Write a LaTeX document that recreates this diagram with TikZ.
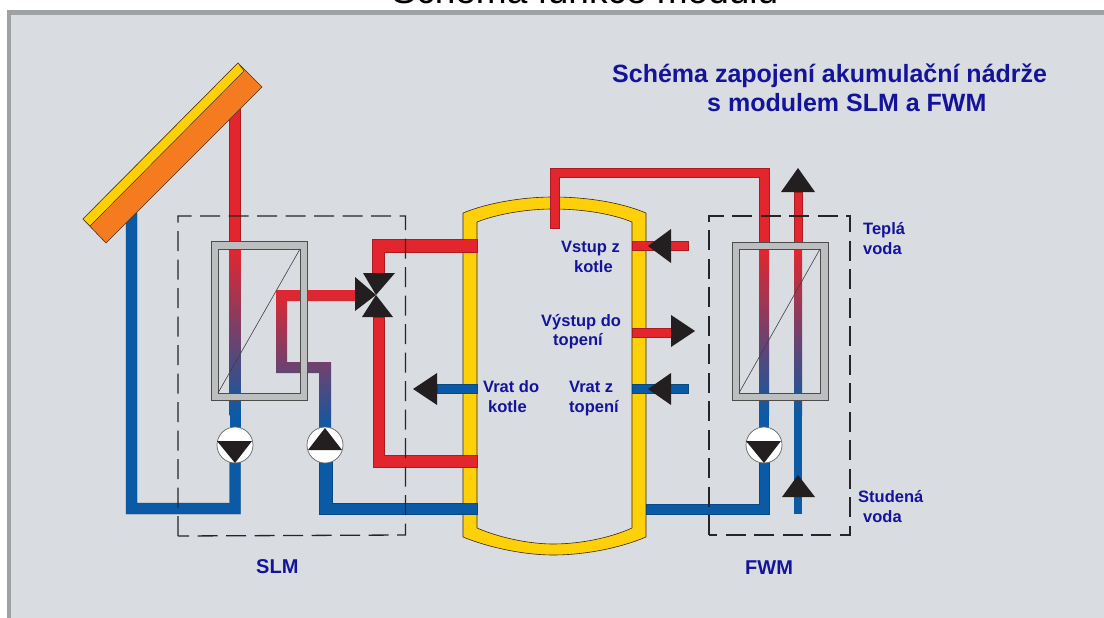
\documentclass[tikz,border=0pt]{standalone}
\usepackage{fontspec}
\setmainfont{Liberation Sans}
\definecolor{panel}{HTML}{D9DCE0}
\definecolor{rim}{HTML}{9EA2A5}
\definecolor{pipered}{HTML}{E3262E}
\definecolor{pipeblue}{HTML}{0A5AA5}
\definecolor{pipemix}{HTML}{A8455F}
\definecolor{tankyellow}{HTML}{FDD00A}
\definecolor{collorange}{HTML}{F47B20}
\definecolor{frame}{HTML}{BCBEC0}
\definecolor{tip}{HTML}{231F20}
\definecolor{label}{HTML}{14149A}

\begin{document}
\begin{tikzpicture}[x=1pt,y=-1pt]
  % overall canvas
  \useasboundingbox (0,0) rectangle (1104,618);
  \clip (0,0) rectangle (1104,618);

  % styles
  \tikzset{
    redpipe/.style={fill=pipered,draw=pipered!75!black,line width=0.4pt},
    bluepipe/.style={fill=pipeblue,draw=pipeblue!80!black,line width=0.4pt},
    hotcold/.style={top color=pipered,middle color=pipemix,bottom color=pipeblue},
    hxframe/.style={fill=frame,draw=black!70,line width=0.7pt,even odd rule},
    hxline/.style={draw=black!75,line width=0.6pt},
    module/.style={draw=black!85,line width=1.3pt,dash pattern=on 20pt off 8.5pt},
    pumpdisc/.style={fill=white,draw=black!60,line width=0.7pt},
    flowtip/.style={fill=tip},
    txt/.style={font=\bfseries\fontsize{16.5}{18}\selectfont,text=label,anchor=base west,inner sep=0pt},
  }

  % white outside, then panel with its rim
  \fill[white] (0,0) rectangle (1104,618);
  \fill[rim] (7,10) rectangle (1104,618);
  \fill[panel] (11,15) rectangle (1104,618);

  % clipped heading above the panel
  \node[font=\fontsize{37}{40}\selectfont,anchor=base,inner sep=0pt] (heading) at (585,4) {Schéma funkce modulu};

  % --- tank ---
  \fill[tankyellow,draw=black!70!brown,line width=0.6pt,even odd rule]
    (463,213) .. controls (490,202) and (525,197) .. (553,197) .. controls (585,197) and (620,202) .. (646,213) --
    (646,537) .. controls (620,548) and (585,555) .. (553,555) .. controls (525,555) and (490,548) .. (463,537) -- cycle
    (477,222) .. controls (500,213) and (530,209) .. (553,209) .. controls (580,209) and (610,213) .. (632,222) --
    (632,528) .. controls (610,538) and (580,544) .. (553,544) .. controls (530,544) and (500,538) .. (477,528) -- cycle;

  % --- solar side pipes ---
  \draw[redpipe] (229.5,108) -- (240.5,108) -- (240.5,247) -- (229.5,247) -- cycle;
  \shade[hotcold] (229.5,249) rectangle (240.5,415);
  \fill[pipeblue] (229.5,414) rectangle (240.5,430);
  \draw[bluepipe] (126,220) -- (126,514) -- (240.5,514) -- (240.5,445) -- (229.5,445) -- (229.5,503) -- (137,503) -- (137,213) -- cycle;
  \shade[hotcold] (276,290) -- (355,290) -- (355,301) -- (287,301) -- (287,362) -- (331,362) -- (331,430) -- (319,430) -- (319,373) -- (276,373) -- cycle;
  \draw[bluepipe] (319,445) -- (319,514) -- (477,514) -- (477,503) -- (332,503) -- (332,445) -- cycle;

  % --- collector ---
  \fill[collorange,draw=black!60!brown,line width=0.6pt] (238,63) -- (262,87) -- (106,243) -- (83,219) -- cycle;
  \fill[tankyellow,draw=black!60!brown,line width=0.5pt] (238,63) -- (244,71) -- (90,226) -- (83,219) -- cycle;

  % --- valve and its loop to the tank ---
  \draw[redpipe] (372,273) -- (372,239) -- (477,239) -- (477,252) -- (384,252) -- (384,273) -- cycle;
  \draw[redpipe] (373,317) -- (373,467) -- (477,467) -- (477,455) -- (384,455) -- (384,317) -- cycle;
  \fill[flowtip] (363,273) -- (395,273) -- (376,295) -- cycle;
  \fill[flowtip] (355,277) -- (355,311) -- (376,295) -- cycle;
  \fill[flowtip] (362,317) -- (393,317) -- (376,295) -- cycle;

  % --- tank connections on the right ---
  \draw[redpipe] (632,241) rectangle (688,250);
  \draw[redpipe] (632,328) rectangle (672,337);
  \draw[bluepipe] (632,384) rectangle (688,393);
  \draw[bluepipe] (437,384) rectangle (477,393);
  \fill[flowtip] (648,246) -- (671,229) -- (671,263) -- cycle;
  \fill[flowtip] (695,331) -- (671,315) -- (671,347) -- cycle;
  \fill[flowtip] (648,389) -- (671,373) -- (671,405) -- cycle;
  \fill[flowtip] (413,389) -- (437,373) -- (437,405) -- cycle;

  % --- boiler feed over the tank top ---
  \draw[redpipe] (550,228) -- (550,168) -- (769,168) -- (769,247) -- (759,247) -- (759,177) -- (559,177) -- (559,228) -- cycle;

  % --- FWM pipes ---
  \shade[hotcold] (759,249) rectangle (769,415);
  \fill[pipeblue] (759,414) rectangle (769,430);
  \draw[bluepipe] (646,504) -- (759,504) -- (759,445) -- (769,445) -- (769,514) -- (646,514) -- cycle;
  \draw[redpipe] (794,192) rectangle (802,247);
  \shade[hotcold] (794,249) rectangle (802,415);
  \fill[pipeblue] (794,414) rectangle (802,514);
  \fill[flowtip] (798,168) -- (815,192) -- (781,192) -- cycle;
  \fill[flowtip] (798,475) -- (815,497) -- (782,497) -- cycle;

  % --- heat exchangers ---
  \draw[hxframe] (211,241) rectangle (307,400) (218,249) rectangle (300,393);
  \draw[hxline] (218,393) -- (300,249);
  \draw[hxframe] (732,242) rectangle (828,400) (739,249) rectangle (820,393);
  \draw[hxline] (739,393) -- (820,249);

  % --- pumps ---
  \draw[pumpdisc] (235,445) circle (18);
  \fill[flowtip] (217,441) -- (252,441) -- (235,463) -- cycle;
  \draw[pumpdisc] (325,445) circle (18);
  \fill[flowtip] (308,450) -- (342,450) -- (325,428) -- cycle;
  \draw[pumpdisc] (764,445) circle (18);
  \fill[flowtip] (746,441) -- (781,441) -- (764,463) -- cycle;

  % --- module borders ---
  \draw[module] (178,536) -- (178,216) -- (405.5,216) -- (405.5,535) -- cycle;
  \draw[module] (709,535) -- (709,216) -- (850,216) -- (850,535) -- cycle;

  % --- texts ---
  \node[txt,font=\bfseries\fontsize{25}{27}\selectfont] (title1) at (612,82) {Schéma zapojení akumulační nádrže};
  \node[txt,font=\bfseries\fontsize{25}{27}\selectfont] (title2) at (707,112) {s modulem SLM a FWM};

  \node[txt] (vstup1) at (561,252) {Vstup z};
  \node[txt] (vstup2) at (574,272) {kotle};
  \node[txt] (vystup1) at (541,326) {Výstup do};
  \node[txt] (vystup2) at (553,345) {topení};
  \node[txt] (vratk1) at (483,392) {Vrat do};
  \node[txt] (vratk2) at (488,412) {kotle};
  \node[txt] (vratt1) at (569,392) {Vrat z};
  \node[txt] (vratt2) at (569,412) {topení};
  \node[txt] (tepla1) at (863,234) {Teplá};
  \node[txt] (tepla2) at (863,254) {voda};
  \node[txt] (stud1) at (858,502) {Studená};
  \node[txt] (stud2) at (863,522) {voda};

  \node[txt,font=\bfseries\fontsize{20}{22}\selectfont] (slm) at (256,573) {SLM};
  \node[txt,font=\bfseries\fontsize{20}{22}\selectfont] (fwm) at (745,574) {FWM};
\end{tikzpicture}
\end{document}
